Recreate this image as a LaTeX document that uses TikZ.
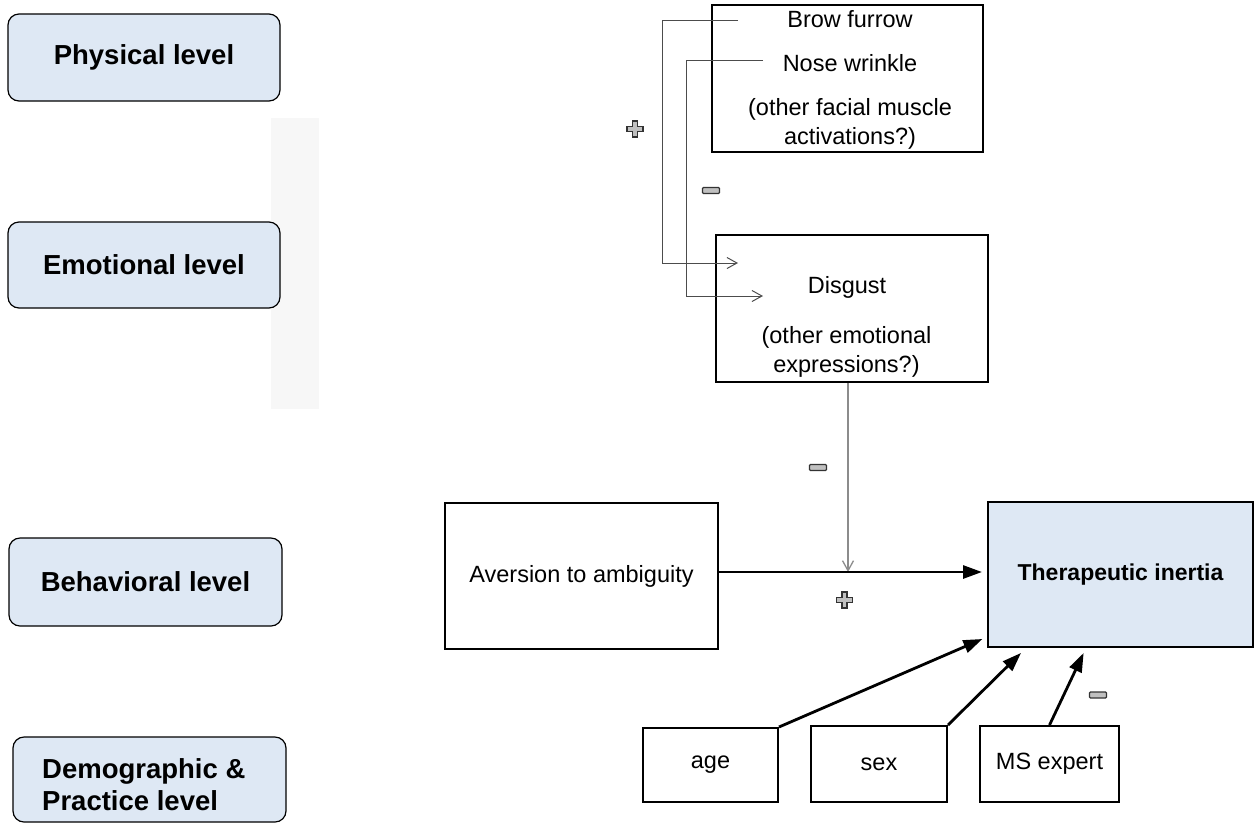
\documentclass[tikz,border=0pt]{standalone}
\usepackage{fontspec}
\setmainfont{Liberation Sans}
\usetikzlibrary{arrows.meta}
\definecolor{levelblue}{HTML}{DEE8F4}
\definecolor{signgray}{HTML}{C0C0C0}
\definecolor{shadegray}{HTML}{F7F7F7}
\tikzset{
  levelbox/.style={draw, rounded corners=11pt, fill=levelblue, line width=1.2pt,
    font=\bfseries\fontsize{27.5}{32}\selectfont, inner sep=0pt, align=left},
  factorbox/.style={draw, line width=2pt, inner sep=0pt},
  txt/.style={font=\fontsize{23.5}{29}\selectfont, inner sep=0pt, align=center},
  loopline/.style={draw=black!70, line width=1pt, -{Straight Barb[length=10pt,width=11pt]}},
  modline/.style={draw=black!45, line width=1.3pt, -{Straight Barb[length=10pt,width=11pt]}},
  mainarrow/.style={line width=2.8pt, -{Triangle[length=19pt,width=13pt]}},
  plussign/.pic={
    \filldraw[fill=signgray, draw=black!80, line width=1.3pt]
      (-2.5,-8) -- (2.5,-8) -- (2.5,-2.5) -- (8,-2.5) -- (8,2.5) -- (2.5,2.5)
      -- (2.5,8) -- (-2.5,8) -- (-2.5,2.5) -- (-8,2.5) -- (-8,-2.5) -- (-2.5,-2.5) -- cycle;
  },
  minussign/.pic={
    \filldraw[fill=signgray, draw=black!80, line width=1.2pt, rounded corners=1pt]
      (-8.5,-3) rectangle (8.5,3);
  }
}
\begin{document}
\begin{tikzpicture}[x=1pt, y=-1pt]
    \useasboundingbox (0,0) rectangle (1257,823);
    \fill[shadegray] (271,118) rectangle (319,409);
    \node[levelbox, minimum width=272pt, minimum height=87pt] (phys) at (144,57.5) {Physical level};
    \node[levelbox, minimum width=272pt, minimum height=86pt] (emo) at (144,265) {Emotional level};
    \node[levelbox, minimum width=273pt, minimum height=88pt] (behav) at (145.5,582) {Behavioral level};
    \node[levelbox, minimum width=273pt, minimum height=85pt] (demo) at (149.5,779.5) {};
    \node[anchor=base west, inner sep=0pt, align=left, font=\bfseries\fontsize{27.5}{32}\selectfont]
      (demotext) at (42,810) {Demographic \&\\Practice level};

    \node[factorbox, minimum width=271pt, minimum height=147pt] (facial) at (847.5,78.5) {};
    \node[txt, anchor=base] (brow) at (850,27) {Brow furrow};
    \node[txt, anchor=base] (nose) at (850,71) {Nose wrinkle};
    \node[txt, anchor=base] (facother) at (850,144) {(other facial muscle\\activations?)};

    \node[factorbox, minimum width=272pt, minimum height=147pt] (disgustbox) at (852,308.5) {};
    \node[txt, anchor=base] (disgust) at (847,293) {Disgust};
    \node[txt, anchor=base] (emoother) at (846.5,372) {(other emotional\\expressions?)};

    \node[factorbox, txt, minimum width=273pt, minimum height=146pt] (aversion) at (581.5,576) {Aversion to ambiguity};
    \node[factorbox, fill=levelblue, font=\bfseries\fontsize{23}{28}\selectfont,
      minimum width=265pt, minimum height=145pt] (inertia) at (1120.5,574.5) {Therapeutic inertia};
    \node[factorbox, txt, minimum width=135pt, minimum height=74pt] (age) at (710.5,765) {age};
    \node[factorbox, txt, minimum width=136pt, minimum height=76pt] (sex) at (879,764) {sex};
    \node[factorbox, txt, minimum width=139pt, minimum height=76pt] (msexp) at (1049.5,764) {MS expert};

    \coordinate (browtail) at (738,20);
    \coordinate (browhead) at (738,263);
    \coordinate (nosetail) at (763,60);
    \coordinate (nosehead) at (763,296);
    \coordinate (modpoint) at (848,572);
    \draw[loopline] (browtail) -- ++(-76,0) |- (browhead);
    \draw[loopline] (nosetail) -- ++(-77,0) |- (nosehead);
    \draw[modline] (disgustbox.south -| modpoint) -- (modpoint);
    \draw[mainarrow, shorten >=5pt] (aversion.east |- modpoint) -- (inertia.west |- modpoint);
    \draw[mainarrow, shorten >=5pt] (age.north east) -- ([yshift=11pt]inertia.south west);
    \draw[mainarrow, shorten >=7pt] (sex.north east) -- ([xshift=39pt]inertia.south west);
    \draw[mainarrow, shorten >=5.5pt] (msexp.north) -- ([xshift=99pt]inertia.south west);

    \pic at (635,129) {plussign};
    \pic at (711,190.5) {minussign};
    \pic at (818,467.5) {minussign};
    \pic at (844.5,600) {plussign};
    \pic at (1098,695) {minussign};
\end{tikzpicture}
\end{document}
